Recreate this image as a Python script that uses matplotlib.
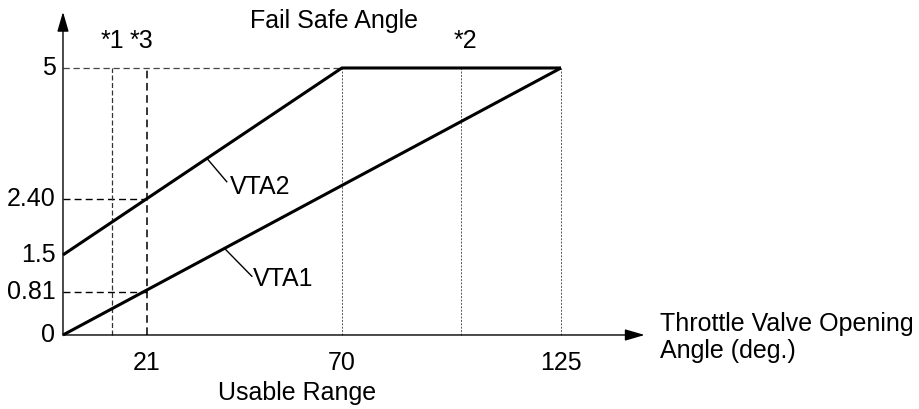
import matplotlib
matplotlib.use("Agg")
import matplotlib.pyplot as plt

plt.rcParams['font.family'] = ['Liberation Sans', 'DejaVu Sans']

# ---- data ----
vta1_x = [0, 125]
vta1_y = [0, 5]
vta2_x = [0, 70, 125]
vta2_y = [1.5, 5, 5]

x_ticks = [21, 70, 125]
x_tick_labels = ['21', '70', '125']
y_ticks = [0, 0.81, 1.5, 2.55, 5]
y_tick_labels = ['0', '0.81', '1.5', '2.40', '5']

mark1_x = 12.3   # *1
mark3_x = 21     # *3
mark2_x = 100    # *2
fail_safe_start = 70
x_end = 125

fig = plt.figure(figsize=(9.19, 4.09), dpi=100)
ax = fig.add_axes([0, 0, 1, 1])
ax.set_xlim(-15.81, 214.86)
ax.set_ylim(-1.386, 6.273)
ax.axis('off')

fs = 18
# axes with arrows
ax.annotate('', xy=(146, 0), xytext=(0, 0),
            arrowprops=dict(arrowstyle='-|>,head_length=1.2,head_width=0.35', color='black', lw=1.0,
                            shrinkA=0, shrinkB=0))
ax.annotate('', xy=(0, 6.05), xytext=(0, 0),
            arrowprops=dict(arrowstyle='-|>,head_length=1.2,head_width=0.35', color='black', lw=1.0,
                            shrinkA=0, shrinkB=0))

# reference dashed lines
ax.plot([0, fail_safe_start], [5, 5], color='#444444', lw=0.9, ls=(0, (5, 3)))
ax.plot([0, mark3_x], [y_ticks[3], y_ticks[3]], color='black', lw=1.0, ls=(0, (5, 3)))
ax.plot([0, mark3_x], [y_ticks[1], y_ticks[1]], color='black', lw=1.0, ls=(0, (5, 3)))
ax.plot([mark1_x, mark1_x], [0, 5], color='#333333', lw=0.9, ls=(0, (4, 2)))
ax.plot([mark3_x, mark3_x], [0, 5], color='black', lw=1.1, ls=(0, (5, 3)))
for xv in [fail_safe_start, mark2_x, x_end]:
    ax.plot([xv, xv], [0, 5], color='#555555', lw=0.7, ls=(0, (2, 1.5)))

# main lines
ax.plot(vta2_x, vta2_y, color='black', lw=2.2, solid_capstyle='butt')
ax.plot(vta1_x, vta1_y, color='black', lw=2.2, solid_capstyle='butt')

# leader lines and labels
ax.plot([36.1, 41.1], [3.31, 2.87], color='black', lw=1.0)
ax.text(41.8, 2.78, 'VTA2', fontsize=fs, ha='left', va='center')
ax.plot([40.7, 47.4], [1.61, 1.10], color='black', lw=1.0)
ax.text(47.6, 1.05, 'VTA1', fontsize=fs, ha='left', va='center')

# tick labels
for yv, lab in zip(y_ticks, y_tick_labels):
    ax.text(-1.9, yv, lab, fontsize=fs, ha='right', va='center')
for xv, lab in zip(x_ticks, x_tick_labels):
    ax.text(xv, -0.52, lab, fontsize=fs, ha='center', va='center')

# annotations
ax.text(68.1, 5.88, 'Fail Safe Angle', fontsize=fs, ha='center', va='center')
ax.text(mark1_x, 5.51, '*1', fontsize=fs, ha='center', va='center')
ax.text(19.8, 5.51, '*3', fontsize=fs, ha='center', va='center')
ax.text(100.9, 5.51, '*2', fontsize=fs, ha='center', va='center')
ax.text(58.7, -1.09, 'Usable Range', fontsize=fs, ha='center', va='center')
ax.text(149.8, -0.04, 'Throttle Valve Opening\nAngle (deg.)', fontsize=fs, ha='left', va='center',
        linespacing=1.15)

fig.savefig('out.png', dpi=100)
